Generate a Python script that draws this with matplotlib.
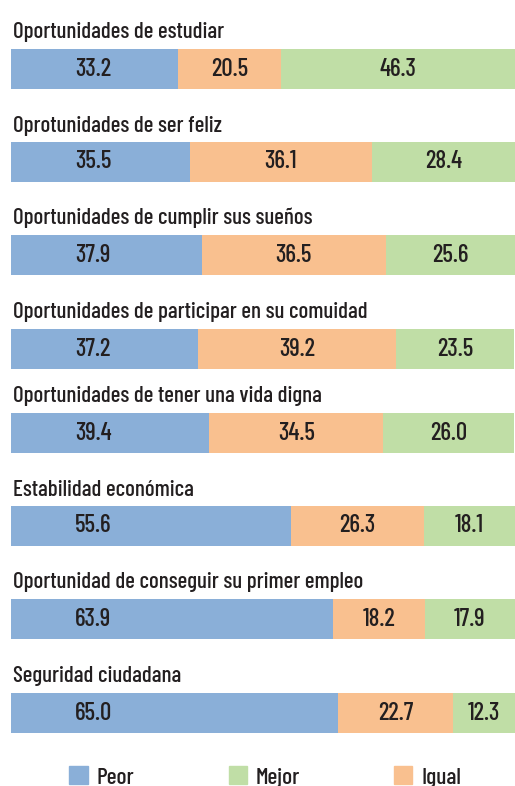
import matplotlib
matplotlib.use("Agg")
import matplotlib.pyplot as plt
from matplotlib.patches import Patch

plt.rcParams['font.family'] = ['Barlow Condensed', 'DejaVu Sans']
plt.rcParams['font.weight'] = 500

categorias = [
    "Oportunidades de estudiar",
    "Oprotunidades de ser feliz",
    "Oportunidades de cumplir sus sueños",
    "Oportunidades de participar en su comuidad",
    "Oportunidades de tener una vida digna",
    "Estabilidad económica",
    "Oportunidad de conseguir su primer empleo",
    "Seguridad ciudadana",
]
peor = [33.2, 35.5, 37.9, 37.2, 39.4, 55.6, 63.9, 65.0]
igual = [20.5, 36.1, 36.5, 39.2, 34.5, 26.3, 18.2, 22.7]
mejor = [46.3, 28.4, 25.6, 23.5, 26.0, 18.1, 17.9, 12.3]

# layout: bar centres in pixel rows of the 786 px tall image
y_centros = [69, 162, 255, 349, 433, 526, 619, 713]
alto = 40

c_peor = '#8AAFD8'
c_igual = '#F9C08F'
c_mejor = '#C0DEA6'
c_texto = '#231F20'

W, H = 515, 786
fig = plt.figure(figsize=(W / 100, H / 100), dpi=100)
ax = fig.add_axes([10.5 / W, 0, 504.5 / W, 1])
ax.set_xlim(0, 100)
ax.set_ylim(H, 0)
ax.axis('off')

izq_igual = peor
izq_mejor = [p + i for p, i in zip(peor, igual)]

ax.barh(y_centros, peor, height=alto, color=c_peor, linewidth=0)
ax.barh(y_centros, igual, left=izq_igual, height=alto, color=c_igual, linewidth=0)
ax.barh(y_centros, mejor, left=izq_mejor, height=alto, color=c_mejor, linewidth=0)

for k, y in enumerate(y_centros):
    ax.text(0.55, y - alto / 2 - 10.5, categorias[k], ha='left', va='baseline',
            fontsize=16.5, color=c_texto)
    # the "peor" value sits at a fixed spot near the left, the others centred
    ax.text(16.4, y + 6.5, f"{peor[k]:.1f}", ha='center', va='baseline',
            fontsize=18, color=c_texto)
    ax.text(izq_igual[k] + igual[k] / 2, y + 6.5, f"{igual[k]:.1f}", ha='center',
            va='baseline', fontsize=18, color=c_texto)
    ax.text(izq_mejor[k] + mejor[k] / 2, y + 6.5, f"{mejor[k]:.1f}", ha='center',
            va='baseline', fontsize=18, color=c_texto)

handles = [Patch(color=c_peor, label='Peor'),
           Patch(color=c_mejor, label='Mejor'),
           Patch(color=c_igual, label='Igual')]
leg = fig.legend(handles=handles, loc='center', bbox_to_anchor=(0.515, 1 - 777 / H),
                 ncol=3, frameon=False, fontsize=17, handlelength=0.77,
                 handleheight=0.77, handletextpad=0.37, columnspacing=4.0,
                 borderpad=0)
for t in leg.get_texts():
    t.set_color(c_texto)

fig.savefig('out.png', dpi=100)
